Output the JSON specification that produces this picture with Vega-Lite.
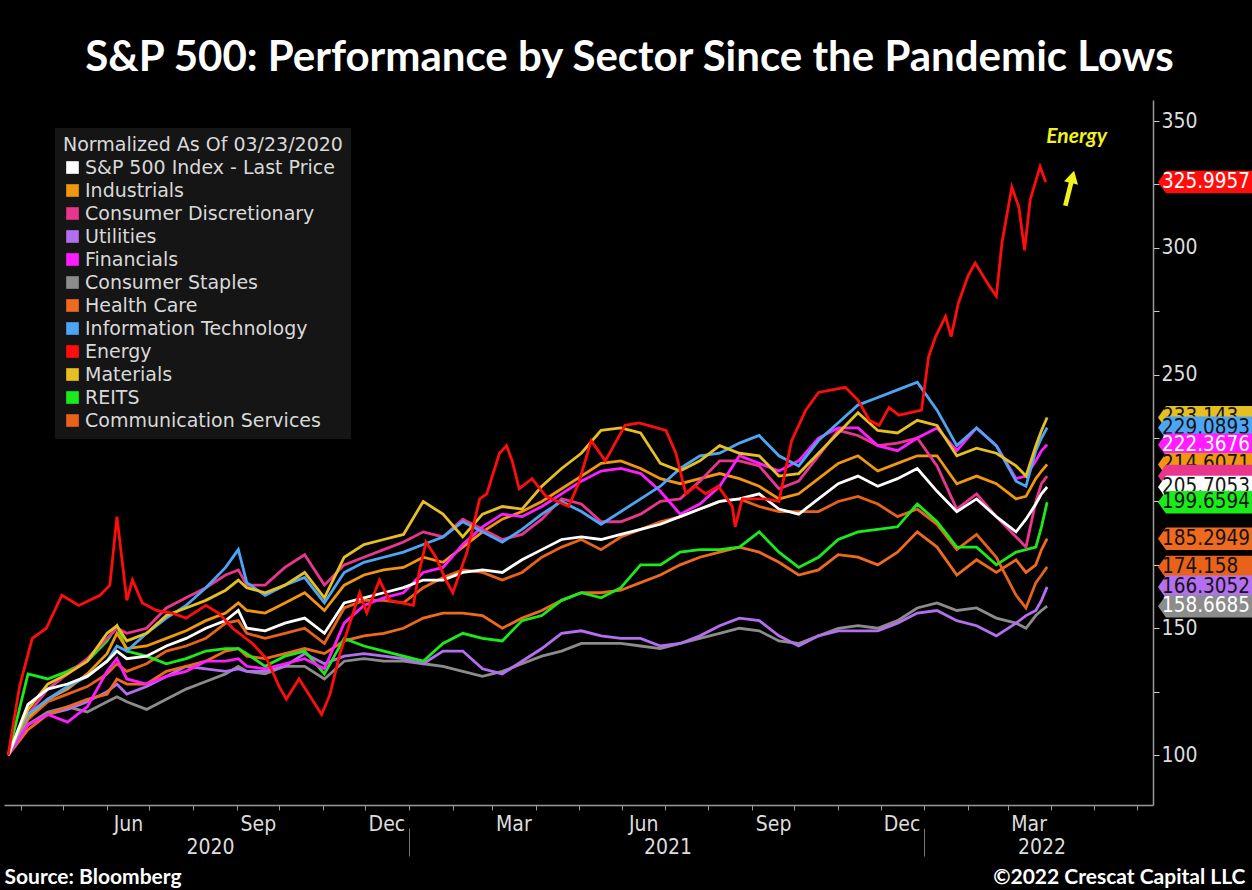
{
  "$schema": "https://vega.github.io/schema/vega-lite/v6.json",
  "width": 1149,
  "height": 705,
  "autosize": {"type": "none"},
  "padding": {"left": 4, "top": 100, "right": 99, "bottom": 85},
  "background": "#000000",
  "config": {"view": {"stroke": null}, "font": "DejaVu Sans Condensed"},
  "title": {
    "text": "S&P 500: Performance by Sector Since the Pandemic Lows",
    "font": "Lato", "fontSize": 42, "fontWeight": "bold", "color": "#ffffff",
    "anchor": "middle", "offset": 20, "dx": 51
  },
  "datasets": {
    "prices": [
      {"date":"2020-03-23","SPX":100,"IND":100,"CD":100,"UTIL":100,"FIN":100,"CS":100,"HC":100,"IT":100,"MAT":100,"REIT":100,"COM":100},
      {"date":"2020-04-06","SPX":120,"IND":115,"CD":116,"UTIL":112,"FIN":112,"CS":112,"HC":110,"IT":116,"MAT":118,"REIT":132,"COM":114},
      {"date":"2020-04-20","SPX":126,"IND":122,"CD":126,"UTIL":116,"FIN":116,"CS":117,"HC":116,"IT":122,"MAT":128,"REIT":130,"COM":121},
      {"date":"2020-05-04","SPX":128,"IND":126,"CD":132,"UTIL":118,"FIN":113,"CS":119,"HC":119,"IT":127,"MAT":132,"REIT":133,"COM":124},
      {"date":"2020-05-18","SPX":131,"IND":132,"CD":138,"UTIL":121,"FIN":119,"CS":117,"HC":122,"IT":131,"MAT":137,"REIT":137,"COM":127},
      {"date":"2020-06-01","SPX":137,"IND":140,"CD":146,"UTIL":125,"FIN":133,"CS":121,"HC":124,"IT":137,"MAT":148,"REIT":145,"COM":132},
      {"date":"2020-06-08","SPX":141,"IND":148,"CD":150,"UTIL":128,"FIN":138,"CS":123,"HC":130,"IT":143,"MAT":151,"REIT":151,"COM":136},
      {"date":"2020-06-15","SPX":138,"IND":142,"CD":148,"UTIL":124,"FIN":130,"CS":121,"HC":128,"IT":141,"MAT":145,"REIT":141,"COM":133},
      {"date":"2020-06-29","SPX":139,"IND":143,"CD":150,"UTIL":127,"FIN":128,"CS":118,"HC":128,"IT":148,"MAT":148,"REIT":139,"COM":136},
      {"date":"2020-07-13","SPX":143,"IND":146,"CD":158,"UTIL":131,"FIN":131,"CS":122,"HC":133,"IT":154,"MAT":155,"REIT":136,"COM":141},
      {"date":"2020-07-27","SPX":146,"IND":149,"CD":162,"UTIL":135,"FIN":133,"CS":126,"HC":135,"IT":159,"MAT":158,"REIT":138,"COM":143},
      {"date":"2020-08-10","SPX":150,"IND":153,"CD":166,"UTIL":134,"FIN":137,"CS":129,"HC":137,"IT":166,"MAT":161,"REIT":141,"COM":146},
      {"date":"2020-08-24","SPX":153,"IND":156,"CD":171,"UTIL":133,"FIN":137,"CS":132,"HC":141,"IT":174,"MAT":165,"REIT":142,"COM":152},
      {"date":"2020-09-02","SPX":157,"IND":160,"CD":173,"UTIL":134,"FIN":138,"CS":135,"HC":142,"IT":181,"MAT":169,"REIT":142,"COM":153},
      {"date":"2020-09-08","SPX":150,"IND":157,"CD":167,"UTIL":133,"FIN":135,"CS":133,"HC":139,"IT":168,"MAT":166,"REIT":140,"COM":148},
      {"date":"2020-09-21","SPX":149,"IND":156,"CD":167,"UTIL":133,"FIN":134,"CS":132,"HC":138,"IT":163,"MAT":164,"REIT":135,"COM":146},
      {"date":"2020-10-05","SPX":152,"IND":160,"CD":174,"UTIL":135,"FIN":136,"CS":135,"HC":140,"IT":167,"MAT":167,"REIT":139,"COM":148},
      {"date":"2020-10-19","SPX":154,"IND":164,"CD":179,"UTIL":140,"FIN":138,"CS":135,"HC":142,"IT":170,"MAT":172,"REIT":141,"COM":150},
      {"date":"2020-11-02","SPX":148,"IND":157,"CD":167,"UTIL":136,"FIN":134,"CS":130,"HC":140,"IT":160,"MAT":162,"REIT":132,"COM":144},
      {"date":"2020-11-16","SPX":160,"IND":167,"CD":175,"UTIL":139,"FIN":152,"CS":137,"HC":145,"IT":172,"MAT":178,"REIT":146,"COM":158},
      {"date":"2020-11-30","SPX":162,"IND":171,"CD":178,"UTIL":140,"FIN":159,"CS":138,"HC":147,"IT":176,"MAT":183,"REIT":143,"COM":161},
      {"date":"2020-12-14","SPX":164,"IND":173,"CD":181,"UTIL":139,"FIN":162,"CS":137,"HC":148,"IT":178,"MAT":185,"REIT":141,"COM":161},
      {"date":"2020-12-28","SPX":166,"IND":174,"CD":184,"UTIL":138,"FIN":164,"CS":137,"HC":150,"IT":180,"MAT":187,"REIT":139,"COM":160},
      {"date":"2021-01-11","SPX":169,"IND":178,"CD":188,"UTIL":136,"FIN":172,"CS":136,"HC":154,"IT":183,"MAT":200,"REIT":137,"COM":166},
      {"date":"2021-01-25","SPX":169,"IND":176,"CD":186,"UTIL":141,"FIN":174,"CS":135,"HC":156,"IT":186,"MAT":195,"REIT":144,"COM":170},
      {"date":"2021-02-08","SPX":172,"IND":182,"CD":193,"UTIL":141,"FIN":183,"CS":133,"HC":156,"IT":192,"MAT":186,"REIT":148,"COM":173},
      {"date":"2021-02-22","SPX":173,"IND":188,"CD":189,"UTIL":134,"FIN":190,"CS":131,"HC":155,"IT":188,"MAT":195,"REIT":146,"COM":172},
      {"date":"2021-03-08","SPX":172,"IND":193,"CD":185,"UTIL":132,"FIN":195,"CS":133,"HC":150,"IT":184,"MAT":198,"REIT":145,"COM":169},
      {"date":"2021-03-22","SPX":177,"IND":196,"CD":187,"UTIL":137,"FIN":194,"CS":136,"HC":154,"IT":189,"MAT":197,"REIT":153,"COM":172},
      {"date":"2021-04-05","SPX":181,"IND":200,"CD":193,"UTIL":142,"FIN":198,"CS":139,"HC":157,"IT":195,"MAT":206,"REIT":155,"COM":178},
      {"date":"2021-04-19","SPX":185,"IND":205,"CD":201,"UTIL":148,"FIN":203,"CS":141,"HC":161,"IT":200,"MAT":213,"REIT":161,"COM":182},
      {"date":"2021-05-03","SPX":186,"IND":210,"CD":199,"UTIL":149,"FIN":208,"CS":144,"HC":164,"IT":196,"MAT":219,"REIT":164,"COM":185},
      {"date":"2021-05-17","SPX":185,"IND":215,"CD":192,"UTIL":147,"FIN":212,"CS":144,"HC":164,"IT":191,"MAT":228,"REIT":162,"COM":181},
      {"date":"2021-05-31","SPX":187,"IND":216,"CD":192,"UTIL":146,"FIN":213,"CS":144,"HC":165,"IT":196,"MAT":229,"REIT":166,"COM":186},
      {"date":"2021-06-14","SPX":189,"IND":213,"CD":195,"UTIL":146,"FIN":211,"CS":143,"HC":168,"IT":201,"MAT":227,"REIT":175,"COM":189},
      {"date":"2021-06-28","SPX":191,"IND":209,"CD":200,"UTIL":143,"FIN":204,"CS":142,"HC":171,"IT":206,"MAT":215,"REIT":175,"COM":192},
      {"date":"2021-07-12","SPX":194,"IND":207,"CD":201,"UTIL":144,"FIN":195,"CS":144,"HC":175,"IT":213,"MAT":212,"REIT":180,"COM":194},
      {"date":"2021-07-26","SPX":197,"IND":209,"CD":208,"UTIL":147,"FIN":199,"CS":146,"HC":178,"IT":218,"MAT":216,"REIT":181,"COM":197},
      {"date":"2021-08-09","SPX":200,"IND":211,"CD":216,"UTIL":151,"FIN":206,"CS":148,"HC":180,"IT":219,"MAT":222,"REIT":181,"COM":200},
      {"date":"2021-08-23","SPX":201,"IND":209,"CD":216,"UTIL":154,"FIN":218,"CS":150,"HC":182,"IT":223,"MAT":219,"REIT":182,"COM":201},
      {"date":"2021-09-06","SPX":203,"IND":206,"CD":214,"UTIL":153,"FIN":215,"CS":149,"HC":180,"IT":226,"MAT":218,"REIT":188,"COM":198},
      {"date":"2021-09-20","SPX":197,"IND":201,"CD":205,"UTIL":147,"FIN":212,"CS":145,"HC":176,"IT":218,"MAT":210,"REIT":180,"COM":196},
      {"date":"2021-10-04","SPX":195,"IND":203,"CD":208,"UTIL":143,"FIN":216,"CS":144,"HC":171,"IT":214,"MAT":211,"REIT":174,"COM":196},
      {"date":"2021-10-18","SPX":201,"IND":209,"CD":218,"UTIL":147,"FIN":225,"CS":147,"HC":173,"IT":224,"MAT":219,"REIT":178,"COM":196},
      {"date":"2021-11-01","SPX":207,"IND":215,"CD":228,"UTIL":149,"FIN":229,"CS":150,"HC":179,"IT":231,"MAT":227,"REIT":185,"COM":200},
      {"date":"2021-11-15","SPX":210,"IND":218,"CD":226,"UTIL":149,"FIN":229,"CS":151,"HC":178,"IT":238,"MAT":235,"REIT":188,"COM":202},
      {"date":"2021-11-29","SPX":206,"IND":212,"CD":222,"UTIL":149,"FIN":222,"CS":150,"HC":175,"IT":241,"MAT":228,"REIT":189,"COM":199},
      {"date":"2021-12-13","SPX":209,"IND":215,"CD":223,"UTIL":152,"FIN":220,"CS":153,"HC":180,"IT":244,"MAT":227,"REIT":190,"COM":194},
      {"date":"2021-12-27","SPX":213,"IND":218,"CD":225,"UTIL":156,"FIN":225,"CS":158,"HC":188,"IT":247,"MAT":232,"REIT":199,"COM":197},
      {"date":"2022-01-10","SPX":204,"IND":218,"CD":214,"UTIL":157,"FIN":229,"CS":160,"HC":182,"IT":236,"MAT":230,"REIT":192,"COM":191},
      {"date":"2022-01-24","SPX":196,"IND":207,"CD":197,"UTIL":153,"FIN":220,"CS":157,"HC":171,"IT":222,"MAT":218,"REIT":182,"COM":181},
      {"date":"2022-02-07","SPX":201,"IND":210,"CD":203,"UTIL":151,"FIN":229,"CS":158,"HC":177,"IT":229,"MAT":221,"REIT":182,"COM":187},
      {"date":"2022-02-21","SPX":194,"IND":207,"CD":194,"UTIL":147,"FIN":222,"CS":154,"HC":172,"IT":222,"MAT":219,"REIT":175,"COM":178},
      {"date":"2022-03-07","SPX":188,"IND":201,"CD":186,"UTIL":152,"FIN":209,"CS":152,"HC":177,"IT":208,"MAT":214,"REIT":180,"COM":163},
      {"date":"2022-03-14","SPX":193,"IND":202,"CD":182,"UTIL":155,"FIN":210,"CS":150,"HC":172,"IT":206,"MAT":210,"REIT":181,"COM":158},
      {"date":"2022-03-21","SPX":199,"IND":209,"CD":200,"UTIL":157,"FIN":216,"CS":155,"HC":175,"IT":220,"MAT":222,"REIT":182,"COM":168},
      {"date":"2022-03-25","SPX":203,"IND":212,"CD":207,"UTIL":161,"FIN":220,"CS":157,"HC":181,"IT":225,"MAT":228,"REIT":190,"COM":171},
      {"date":"2022-03-29","SPX":205.7,"IND":214.6,"CD":210,"UTIL":166.3,"FIN":222.4,"CS":158.7,"HC":185.3,"IT":229.1,"MAT":233.1,"REIT":199.7,"COM":174.2}
    ],
    "energy": [
      {"date":"2020-03-23","value":100},{"date":"2020-03-31","value":127},{"date":"2020-04-09","value":146},{"date":"2020-04-19","value":150},
      {"date":"2020-04-30","value":163},{"date":"2020-05-12","value":159},{"date":"2020-05-27","value":163},{"date":"2020-06-03","value":167},
      {"date":"2020-06-08","value":194},{"date":"2020-06-15","value":161},{"date":"2020-06-19","value":169},{"date":"2020-06-26","value":160},
      {"date":"2020-07-06","value":157},{"date":"2020-07-17","value":156},{"date":"2020-07-27","value":154},{"date":"2020-08-10","value":159},
      {"date":"2020-08-19","value":156},{"date":"2020-08-29","value":150},{"date":"2020-09-12","value":144},{"date":"2020-09-22","value":138},
      {"date":"2020-10-01","value":127},{"date":"2020-10-06","value":122},{"date":"2020-10-15","value":130},{"date":"2020-10-31","value":116},
      {"date":"2020-11-06","value":124},{"date":"2020-11-13","value":140},{"date":"2020-11-27","value":164},{"date":"2020-12-02","value":156},
      {"date":"2020-12-11","value":169},{"date":"2020-12-18","value":161},{"date":"2021-01-04","value":159},{"date":"2021-01-08","value":172},
      {"date":"2021-01-13","value":184},{"date":"2021-01-20","value":178},{"date":"2021-01-27","value":169},{"date":"2021-02-01","value":164},
      {"date":"2021-02-11","value":180},{"date":"2021-02-20","value":201},{"date":"2021-02-25","value":203},{"date":"2021-03-06","value":219},
      {"date":"2021-03-11","value":222},{"date":"2021-03-15","value":216},{"date":"2021-03-20","value":205},{"date":"2021-03-29","value":209},
      {"date":"2021-04-08","value":202},{"date":"2021-04-24","value":198},{"date":"2021-05-01","value":207},{"date":"2021-05-10","value":224},
      {"date":"2021-05-20","value":216},{"date":"2021-06-03","value":230},{"date":"2021-06-13","value":231},{"date":"2021-07-02","value":228},
      {"date":"2021-07-09","value":219},{"date":"2021-07-16","value":203},{"date":"2021-07-23","value":206},{"date":"2021-07-30","value":203},
      {"date":"2021-08-08","value":206},{"date":"2021-08-18","value":198},{"date":"2021-08-20","value":190},{"date":"2021-08-25","value":201},
      {"date":"2021-09-10","value":201},{"date":"2021-09-20","value":200},{"date":"2021-09-29","value":224},{"date":"2021-10-09","value":236},
      {"date":"2021-10-18","value":243},{"date":"2021-11-06","value":245},{"date":"2021-11-15","value":240},{"date":"2021-11-23","value":232},
      {"date":"2021-11-30","value":230},{"date":"2021-12-07","value":237},{"date":"2021-12-14","value":234},{"date":"2021-12-30","value":236},
      {"date":"2022-01-04","value":257},{"date":"2022-01-09","value":265},{"date":"2022-01-16","value":273},{"date":"2022-01-20","value":265},
      {"date":"2022-01-25","value":278},{"date":"2022-02-01","value":289},{"date":"2022-02-06","value":294},{"date":"2022-02-16","value":285},
      {"date":"2022-02-21","value":281},{"date":"2022-02-25","value":302},{"date":"2022-03-04","value":324},{"date":"2022-03-09","value":316},
      {"date":"2022-03-13","value":299},{"date":"2022-03-17","value":319},{"date":"2022-03-24","value":332},{"date":"2022-03-28","value":326}
    ],
    "tags": [
      {"sector":"EN","value":325.9957,"label":"325.9957"},
      {"sector":"MAT","value":233.143,"label":"233.143"},
      {"sector":"IT","value":229.0893,"label":"229.0893"},
      {"sector":"FIN","value":222.3676,"label":"222.3676"},
      {"sector":"IND","value":214.6071,"label":"214.6071"},
      {"sector":"CD","value":210.0,"label":"210.0"},
      {"sector":"SPX","value":205.7053,"label":"205.7053"},
      {"sector":"REIT","value":199.6594,"label":"199.6594"},
      {"sector":"HC","value":185.2949,"label":"185.2949"},
      {"sector":"COM","value":174.158,"label":"174.158"},
      {"sector":"UTIL","value":166.3052,"label":"166.3052"},
      {"sector":"CS","value":158.6685,"label":"158.6685"}
    ]
  },
  "layer": [
    {
      "data": {"name": "prices"},
      "transform": [{"fold": ["CS","UTIL","HC","COM","REIT","IND","CD","FIN","IT","MAT","SPX"], "as": ["sector","value"]}],
      "mark": {"type": "line", "strokeWidth": 2.8, "clip": false},
      "encoding": {
        "x": {
          "field": "date", "type": "temporal",
          "scale": {"type": "utc", "domain": [{"year":2020,"month":3,"date":20,"utc":true},{"year":2022,"month":6,"date":12,"utc":true}]},
          "axis": {
            "orient": "bottom",
            "tickCount": {"interval": "month", "step": 1},
            "labelExpr": "indexof([2,5,8,11], utcmonth(datum.value)) >= 0 && datum.value < datetime(2022,4,1) ? utcFormat(datum.value, '%b') : ''",
            "labelOffset": 21, "labelFlush": false, "labelOverlap": false, "labelBound": false,
            "labelFontSize": 21, "labelColor": "#dddddd", "labelPadding": 3,
            "tickColor": "#9a9a9a", "tickSize": 5, "domainColor": "#9a9a9a", "domainWidth": 1.5,
            "grid": false,
            "title": "©2022 Crescat Capital LLC", "titleX": 1241, "titleY": 72, "titleAlign": "right",
            "titleBaseline": "middle", "titleFont": "Lato", "titleFontSize": 21, "titleFontWeight": "bold", "titleColor": "#ffffff", "titleAnchor": null
          }
        },
        "y": {
          "field": "value", "type": "quantitative",
          "scale": {"domain": [80.3, 358.3], "nice": false, "zero": false},
          "axis": {
            "orient": "right", "values": [100,125,150,175,200,225,250,275,300,325,350],
            "labelExpr": "datum.value % 50 == 0 ? datum.label : ''",
            "grid": false, "title": null,
            "labelFontSize": 21, "labelColor": "#dddddd", "labelPadding": 2,
            "tickColor": "#cccccc", "tickSize": 6, "domainColor": "#9a9a9a", "domainWidth": 1.5
          }
        },
        "color": {
          "field": "sector", "type": "nominal",
          "scale": {
            "domain": ["SPX","IND","CD","UTIL","FIN","CS","HC","IT","EN","MAT","REIT","COM"],
            "range": ["#ffffff","#f0960f","#e8368f","#b46ef0","#ff1cff","#8c8c8c","#ee6a1e","#4ca6f5","#ff0d0d","#e6bf22","#1aeb1a","#e8621a"]
          },
          "legend": {
            "orient": "none", "legendX": 51, "legendY": 28,
            "title": "Normalized As Of 03/23/2020", "titleLimit": 600,
            "titleFont": "DejaVu Sans", "titleFontSize": 19, "titleFontWeight": "normal", "titleColor": "#d9d9d9", "titlePadding": 3,
            "labelFont": "DejaVu Sans", "labelFontSize": 19, "labelColor": "#d9d9d9", "labelLimit": 600, "labelOffset": 3,
            "labelExpr": "datum.label=='SPX'?'S&P 500 Index - Last Price':datum.label=='IND'?'Industrials':datum.label=='CD'?'Consumer Discretionary':datum.label=='UTIL'?'Utilities':datum.label=='FIN'?'Financials':datum.label=='CS'?'Consumer Staples':datum.label=='HC'?'Health Care':datum.label=='IT'?'Information Technology':datum.label=='EN'?'Energy':datum.label=='MAT'?'Materials':datum.label=='REIT'?'REITS':'Communication Services'",
            "symbolType": "square", "symbolSize": 160, "symbolStrokeWidth": 0, "symbolOpacity": 1,
            "rowPadding": 3, "padding": 8, "fillColor": "#151515",
            "encoding": {"symbols": {"update": {"fill": {"scale": "color", "field": "value"}, "stroke": {"value": "transparent"}}}}
          }
        }
      }
    },
    {
      "data": {"name": "energy"},
      "mark": {"type": "line", "strokeWidth": 2.8, "clip": false},
      "encoding": {
        "x": {"field": "date", "type": "temporal", "axis": null},
        "y": {"field": "value", "type": "quantitative"},
        "color": {"datum": "EN", "type": "nominal"}
      }
    },
    {
      "data": {"name": "tags"},
      "transform": [{"filter": {"field": "sector", "oneOf": ["EN","MAT","HC","COM"]}}],
      "layer": [
        {"mark": {"type": "point", "shape": "M -1 0 L -0.83 -0.24 L 1 -0.24 L 1 0.24 L -0.83 0.24 Z", "size": 8836, "filled": true, "opacity": 1, "strokeWidth": 0, "xOffset": 52, "clip": false},
         "encoding": {"x": {"datum": {"year":2022,"month":6,"date":12,"utc":true}, "type": "temporal", "axis": null}, "y": {"field": "value", "type": "quantitative"}, "color": {"field": "sector", "type": "nominal"}}},
        {"mark": {"type": "text", "align": "left", "baseline": "middle", "dx": 9, "fontSize": 20.5, "clip": false},
         "encoding": {"x": {"datum": {"year":2022,"month":6,"date":12,"utc":true}, "type": "temporal", "axis": null}, "y": {"field": "value", "type": "quantitative"}, "text": {"field": "label"},
           "color": {"condition": {"test": "indexof(['EN','FIN','CS'], datum.sector) >= 0", "value": "#ffffff"}, "value": "#141414"}}}
      ]
    },
    {
      "data": {"name": "tags"},
      "transform": [{"filter": {"field": "sector", "oneOf": ["IT","UTIL"]}}],
      "layer": [
        {"mark": {"type": "point", "shape": "M -1 0 L -0.83 -0.24 L 1 -0.24 L 1 0.24 L -0.83 0.24 Z", "size": 8836, "filled": true, "opacity": 1, "strokeWidth": 0, "xOffset": 52, "clip": false},
         "encoding": {"x": {"datum": {"year":2022,"month":6,"date":12,"utc":true}, "type": "temporal", "axis": null}, "y": {"field": "value", "type": "quantitative"}, "color": {"field": "sector", "type": "nominal"}}},
        {"mark": {"type": "text", "align": "left", "baseline": "middle", "dx": 9, "fontSize": 20.5, "clip": false},
         "encoding": {"x": {"datum": {"year":2022,"month":6,"date":12,"utc":true}, "type": "temporal", "axis": null}, "y": {"field": "value", "type": "quantitative"}, "text": {"field": "label"},
           "color": {"condition": {"test": "indexof(['EN','FIN','CS'], datum.sector) >= 0", "value": "#ffffff"}, "value": "#141414"}}}
      ]
    },
    {
      "data": {"name": "tags"},
      "transform": [{"filter": {"field": "sector", "oneOf": ["FIN","CS"]}}],
      "layer": [
        {"mark": {"type": "point", "shape": "M -1 0 L -0.83 -0.24 L 1 -0.24 L 1 0.24 L -0.83 0.24 Z", "size": 8836, "filled": true, "opacity": 1, "strokeWidth": 0, "xOffset": 52, "clip": false},
         "encoding": {"x": {"datum": {"year":2022,"month":6,"date":12,"utc":true}, "type": "temporal", "axis": null}, "y": {"field": "value", "type": "quantitative"}, "color": {"field": "sector", "type": "nominal"}}},
        {"mark": {"type": "text", "align": "left", "baseline": "middle", "dx": 9, "fontSize": 20.5, "clip": false},
         "encoding": {"x": {"datum": {"year":2022,"month":6,"date":12,"utc":true}, "type": "temporal", "axis": null}, "y": {"field": "value", "type": "quantitative"}, "text": {"field": "label"},
           "color": {"condition": {"test": "indexof(['EN','FIN','CS'], datum.sector) >= 0", "value": "#ffffff"}, "value": "#141414"}}}
      ]
    },
    {
      "data": {"name": "tags"},
      "transform": [{"filter": {"field": "sector", "oneOf": ["IND"]}}],
      "layer": [
        {"mark": {"type": "point", "shape": "M -1 0 L -0.83 -0.24 L 1 -0.24 L 1 0.24 L -0.83 0.24 Z", "size": 8836, "filled": true, "opacity": 1, "strokeWidth": 0, "xOffset": 52, "clip": false},
         "encoding": {"x": {"datum": {"year":2022,"month":6,"date":12,"utc":true}, "type": "temporal", "axis": null}, "y": {"field": "value", "type": "quantitative"}, "color": {"field": "sector", "type": "nominal"}}},
        {"mark": {"type": "text", "align": "left", "baseline": "middle", "dx": 9, "fontSize": 20.5, "clip": false},
         "encoding": {"x": {"datum": {"year":2022,"month":6,"date":12,"utc":true}, "type": "temporal", "axis": null}, "y": {"field": "value", "type": "quantitative"}, "text": {"field": "label"}, "color": {"value": "#141414"}}}
      ]
    },
    {
      "data": {"name": "tags"},
      "transform": [{"filter": {"field": "sector", "oneOf": ["CD"]}}],
      "layer": [
        {"mark": {"type": "point", "shape": "M -1 0 L -0.83 -0.24 L 1 -0.24 L 1 0.24 L -0.83 0.24 Z", "size": 8836, "filled": true, "opacity": 1, "strokeWidth": 0, "xOffset": 52, "clip": false},
         "encoding": {"x": {"datum": {"year":2022,"month":6,"date":12,"utc":true}, "type": "temporal", "axis": null}, "y": {"field": "value", "type": "quantitative"}, "color": {"field": "sector", "type": "nominal"}}}
      ]
    },
    {
      "data": {"name": "tags"},
      "transform": [{"filter": {"field": "sector", "oneOf": ["SPX"]}}],
      "layer": [
        {"mark": {"type": "point", "shape": "M -1 0 L -0.83 -0.24 L 1 -0.24 L 1 0.24 L -0.83 0.24 Z", "size": 8836, "filled": true, "opacity": 1, "strokeWidth": 0, "xOffset": 52, "clip": false},
         "encoding": {"x": {"datum": {"year":2022,"month":6,"date":12,"utc":true}, "type": "temporal", "axis": null}, "y": {"field": "value", "type": "quantitative"}, "color": {"field": "sector", "type": "nominal"}}},
        {"mark": {"type": "text", "align": "left", "baseline": "middle", "dx": 9, "fontSize": 20.5, "clip": false},
         "encoding": {"x": {"datum": {"year":2022,"month":6,"date":12,"utc":true}, "type": "temporal", "axis": null}, "y": {"field": "value", "type": "quantitative"}, "text": {"field": "label"}, "color": {"value": "#141414"}}}
      ]
    },
    {
      "data": {"name": "tags"},
      "transform": [{"filter": {"field": "sector", "oneOf": ["REIT"]}}],
      "layer": [
        {"mark": {"type": "point", "shape": "M -1 0 L -0.83 -0.24 L 1 -0.24 L 1 0.24 L -0.83 0.24 Z", "size": 8836, "filled": true, "opacity": 1, "strokeWidth": 0, "xOffset": 52, "clip": false},
         "encoding": {"x": {"datum": {"year":2022,"month":6,"date":12,"utc":true}, "type": "temporal", "axis": null}, "y": {"field": "value", "type": "quantitative"}, "color": {"field": "sector", "type": "nominal"}}},
        {"mark": {"type": "text", "align": "left", "baseline": "middle", "dx": 9, "fontSize": 20.5, "clip": false},
         "encoding": {"x": {"datum": {"year":2022,"month":6,"date":12,"utc":true}, "type": "temporal", "axis": null}, "y": {"field": "value", "type": "quantitative"}, "text": {"field": "label"}, "color": {"value": "#141414"}}}
      ]
    },
    {
      "data": {"values": [{}]},
      "mark": {"type": "text", "text": "Energy", "font": "Lato", "fontSize": 21, "fontWeight": "bold", "fontStyle": "italic", "color": "#f2f21c", "align": "center", "baseline": "middle", "clip": false},
      "encoding": {
        "x": {
          "datum": {"year":2022,"month":4,"date":19,"utc":true}, "type": "temporal",
          "axis": {
            "orient": "bottom",
            "values": [{"year":2020,"month":8,"date":13,"utc":true},{"year":2021,"month":1,"date":1,"utc":true},{"year":2021,"month":7,"date":3,"utc":true},{"year":2022,"month":1,"date":1,"utc":true},{"year":2022,"month":3,"date":25,"utc":true}],
            "labelExpr": "utcmonth(datum.value)==0 && utcdate(datum.value)==1 ? '' : utcFormat(datum.value, '%Y')",
            "offset": 23, "domain": false, "grid": false,
            "tickSize": 28, "tickColor": "#777777", "tickWidth": 1,
            "tickOpacity": {"condition": {"test": "utcmonth(datum.value)==0 && utcdate(datum.value)==1", "value": 1}, "value": 0},
            "labelPadding": -20, "labelFontSize": 21, "labelColor": "#dddddd", "labelFlush": false, "labelOverlap": false, "labelBound": false,
            "title": "Source: Bloomberg", "titleX": 0, "titleY": 49, "titleAlign": "left", "titleBaseline": "middle", "titleAnchor": null,
            "titleFont": "Lato", "titleFontSize": 21, "titleFontWeight": "bold", "titleColor": "#ffffff"
          }
        },
        "y": {"datum": 343.7, "type": "quantitative"}
      }
    },
    {
      "data": {"values": [{}]},
      "mark": {"type": "point", "shape": "M -0.13 1 L 0.13 1 L 0.13 -0.3 L 0.4 -0.3 L 0 -1 L -0.4 -0.3 L -0.13 -0.3 Z", "size": 1296, "angle": 14, "filled": true, "opacity": 1, "color": "#f2f21c", "strokeWidth": 0, "clip": false},
      "encoding": {
        "x": {"datum": {"year":2022,"month":4,"date":14,"utc":true}, "type": "temporal", "axis": null},
        "y": {"datum": 323.5, "type": "quantitative"}
      }
    }
  ],
  "resolve": {"axis": {"x": "independent", "y": "shared"}}
}
